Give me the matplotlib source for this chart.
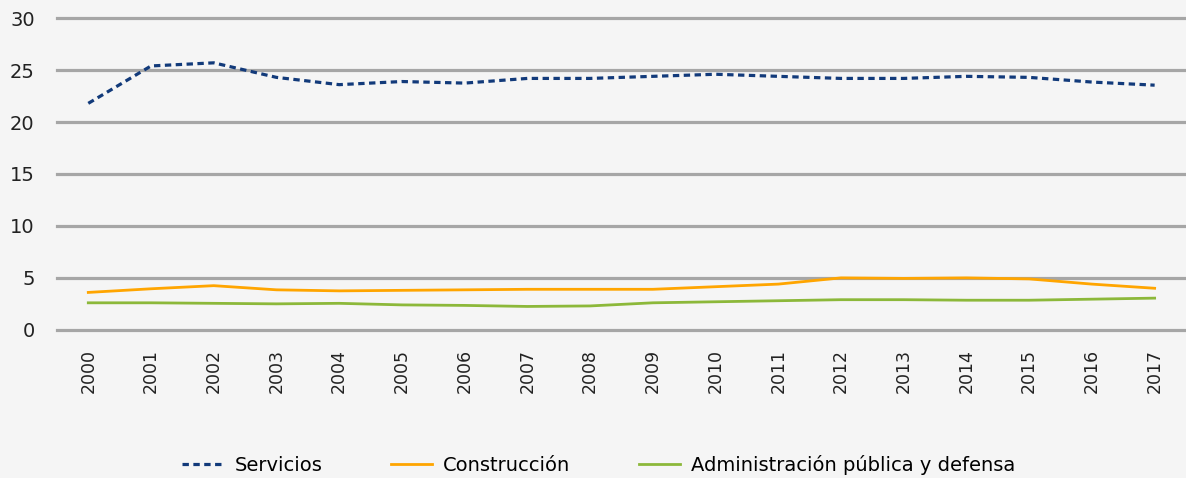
import matplotlib.pyplot as plt

years = [str(y) for y in range(2000, 2018)]
servicios = [21.8, 25.4, 25.7, 24.3, 23.6, 23.9, 23.75, 24.2, 24.2, 24.4,
             24.6, 24.4, 24.2, 24.2, 24.4, 24.3, 23.85, 23.55]
construccion = [3.6, 3.95, 4.25, 3.85, 3.75, 3.8, 3.85, 3.9, 3.9, 3.9,
                4.15, 4.4, 5.0, 4.95, 5.0, 4.9, 4.4, 4.0]
administracion = [2.6, 2.6, 2.55, 2.5, 2.55, 2.4, 2.35, 2.25, 2.3, 2.6,
                  2.7, 2.8, 2.9, 2.9, 2.85, 2.85, 2.95, 3.05]
yticks = [0, 5, 10, 15, 20, 25, 30]

bg = '#f5f5f5'
fig = plt.figure(figsize=(11.86, 4.78), dpi=100, facecolor=bg)
ax = fig.add_axes([0.048, 0.31, 0.952, 0.652], facecolor=bg)

x = range(len(years))
ax.plot(x, servicios, color='#123a7a', lw=2.3, linestyle=(0, (2, 1.4)),
        label='Servicios', zorder=3)
ax.plot(x, construccion, color='#ffa500', lw=2.0, label='Construcción', zorder=3)
ax.plot(x, administracion, color='#8cb83a', lw=2.0,
        label='Administración pública y defensa', zorder=3)

ax.set_xlim(-0.5, len(years) - 0.5)
ax.set_ylim(0, 30)
ax.set_yticks(yticks)
ax.set_yticklabels([str(v) for v in yticks], fontsize=14, color='#222222')
ax.set_xticks(list(x))
ax.set_xticklabels(years, rotation=90, fontsize=12.5, color='#222222')
ax.tick_params(length=0)
ax.tick_params(axis='y', pad=16)
ax.tick_params(axis='x', pad=14)
ax.yaxis.grid(True, color='#a6a6a6', lw=2.3)
for gl in ax.yaxis.get_gridlines():
    gl.set_clip_on(False)
ax.set_axisbelow(True)
for s in ax.spines.values():
    s.set_visible(False)

fig.legend(loc='center', bbox_to_anchor=(0.505, 0.027), ncol=3, frameon=False,
           fontsize=14, handlelength=2.1, handletextpad=0.6, columnspacing=3.5)

fig.savefig('out.png', dpi=100, facecolor=bg)
